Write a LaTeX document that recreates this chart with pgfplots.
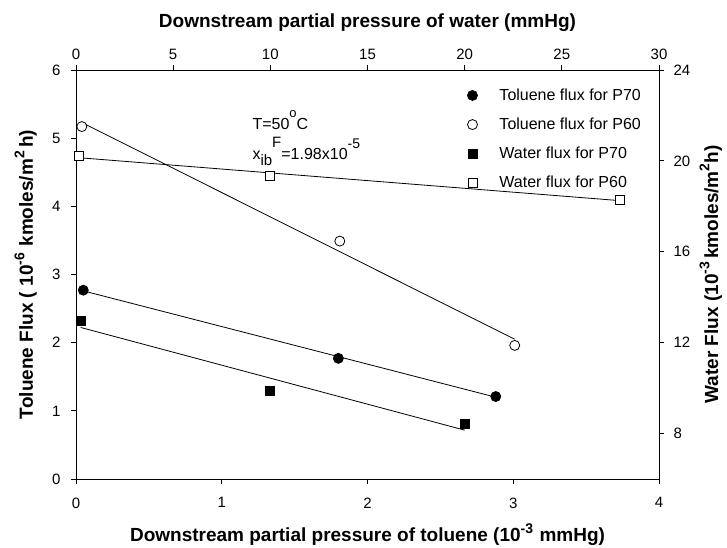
\documentclass[border=0pt]{standalone}
\usepackage{pgfplots}
\pgfplotsset{compat=1.18}
\usepackage{fontspec}
\setmainfont{Liberation Sans}
\newcommand{\sups}[1]{\raisebox{0.45em}{\fontsize{14}{14}\selectfont #1}}
\begin{document}
\begin{tikzpicture}
\pgfplotsset{
  every axis/.append style={
    width=583pt, height=409pt, scale only axis,
    font=\fontsize{15}{18}\selectfont,
    /pgf/number format/assume math mode=true,
    tick align=outside, major tick length=5pt,
    axis line style={line width=0.9pt},
    every tick/.style={line width=0.9pt, black},
    label style={font=\fontsize{19}{22}\selectfont\bfseries},
  }
}
\begin{axis}[
  xmin=0, xmax=4, ymin=0, ymax=6,
  axis x line*=bottom, axis y line*=left,
  xtick={0,1,2,3,4}, ytick={0,1,2,3,4,5,6},
  xticklabel style={yshift=-10pt},
  yticklabel style={xshift=-7pt},
  xlabel={Downstream partial pressure of toluene (10\sups{-3}\,\,mmHg)},
  ylabel={Toluene Flux ( 10\sups{-6}\,\,kmoles/m\sups{2}\,h)},
  xlabel style={at={(axis description cs:0.5,-0.154)}, anchor=base},
  ylabel style={at={(axis description cs:-0.0738,0.5)}, anchor=base},
]
\addplot[only marks, mark=*, mark size=5pt, mark options={fill=black, draw=black, line width=0.8pt}] coordinates {(0.05,2.77) (1.80,1.77) (2.88,1.21)};
\addplot[only marks, mark=*, mark size=5pt, mark options={fill=white, draw=black, line width=0.8pt}] coordinates {(0.04,5.17) (1.81,3.49) (3.01,1.96)};
\addplot[black, line width=0.8pt] coordinates {(0.05,2.76) (2.88,1.20)};
\addplot[black, line width=0.8pt] coordinates {(0.04,5.23) (3.01,2.05)};
\node[anchor=base west, font=\fontsize{16}{19}\selectfont, inner sep=0pt] at (axis cs:1.21,5.12) {T=50\raisebox{0.8em}{\fontsize{13}{13}\selectfont o}C};
\node[anchor=base west, font=\fontsize{16}{19}\selectfont, inner sep=0pt] at (axis cs:1.21,4.69) {x\raisebox{-0.4em}{\fontsize{15}{15}\selectfont ib}\raisebox{0.75em}{\fontsize{15}{15}\selectfont F}=1.98x10\raisebox{0.7em}{\fontsize{14}{14}\selectfont -5}};
\end{axis}
\begin{axis}[
  xmin=0, xmax=30, ymin=6, ymax=24,
  axis x line*=top, axis y line*=right,
  xtick={0,5,10,15,20,25,30}, ytick={8,12,16,20,24},
  xticklabel style={yshift=2pt},
  yticklabel style={xshift=6pt},
  xlabel={Downstream partial pressure of water (mmHg)},
  ylabel={Water Flux (10\sups{-3}\,kmoles/m\sups{2}h)},
  xlabel style={at={(axis description cs:0.5,1.1027)}, anchor=base},
  ylabel style={at={(axis description cs:1.1012,0.5)}, anchor=base},
  legend cell align=left,
  legend style={draw=none, fill=none, at={(axis description cs:0.666,0.964)}, anchor=north west,
    font=\fontsize{16}{19}\selectfont, row sep=12pt,
    /tikz/every odd column/.append style={column sep=20pt}},
]
\addlegendimage{only marks, mark=*, mark size=5pt, mark options={fill=black, draw=black, line width=0.8pt}}
\addlegendentry{Toluene flux for P70}
\addlegendimage{only marks, mark=*, mark size=5pt, mark options={fill=white, draw=black, line width=0.8pt}}
\addlegendentry{Toluene flux for P60}
\addlegendimage{only marks, mark=square*, mark size=4.5pt, mark options={fill=black, draw=black, line width=0.8pt}}
\addlegendentry{Water flux for P70}
\addlegendimage{only marks, mark=square*, mark size=4.5pt, mark options={fill=white, draw=black, line width=0.8pt}}
\addlegendentry{Water flux for P60}
\addplot[black, line width=0.8pt, forget plot] coordinates {(0.24,12.67) (20,8.15)};
\addplot[black, line width=0.8pt, forget plot] coordinates {(0.15,20.14) (28,18.25)};
\addplot[only marks, mark=square*, mark size=4.5pt, mark options={fill=black, draw=black, line width=0.8pt}, forget plot] coordinates {(0.24,12.97) (10,9.86) (20,8.43)};
\addplot[only marks, mark=square*, mark size=4.5pt, mark options={fill=white, draw=black, line width=0.8pt}, forget plot] coordinates {(0.15,20.22) (10,19.35) (28,18.29)};
\end{axis}
\pgfresetboundingbox
\path (-76pt,-68pt) rectangle (651pt,479pt);
\end{tikzpicture}
\end{document}
